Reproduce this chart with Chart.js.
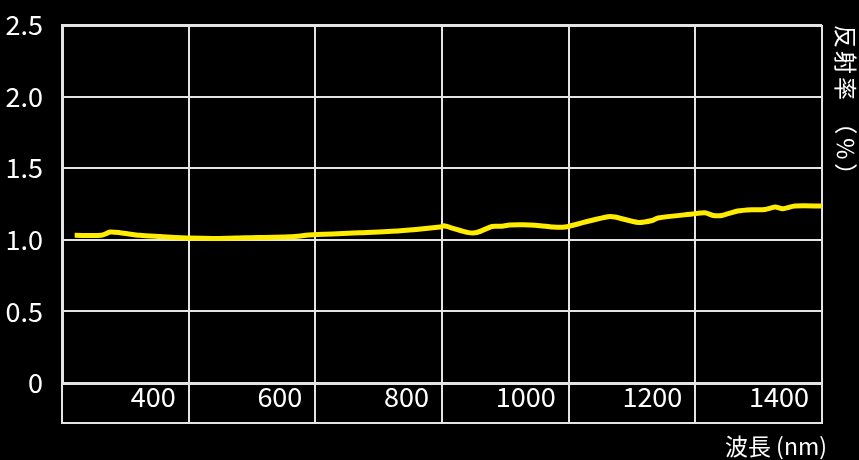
<!DOCTYPE html>
<html>
<head>
<meta charset="utf-8">
<script src="https://cdn.jsdelivr.net/npm/chart.js@4/dist/chart.umd.min.js"></script>
<style>
  html, body { margin: 0; padding: 0; background: #000; }
  #wrap { width: 859px; height: 460px; position: relative; }
</style>
</head>
<body>
<div id="wrap"><canvas id="c"></canvas></div>
<script>
// ---- data ----
const wavelengths = [220, 262, 276, 292, 323, 355, 402, 442, 489, 560, 596, 670, 734, 797, 803, 816, 840, 855, 879, 892, 907, 928, 955, 975, 994, 1026, 1062, 1073, 1110, 1132, 1141, 1195, 1215, 1228, 1242, 1267, 1290, 1310, 1326, 1338, 1357, 1400];
const reflectance = [1.031, 1.031, 1.054, 1.049, 1.031, 1.023, 1.012, 1.009, 1.014, 1.021, 1.035, 1.049, 1.063, 1.089, 1.098, 1.082, 1.052, 1.051, 1.093, 1.094, 1.103, 1.105, 1.098, 1.089, 1.089, 1.124, 1.161, 1.159, 1.121, 1.135, 1.152, 1.180, 1.189, 1.170, 1.170, 1.201, 1.210, 1.212, 1.229, 1.217, 1.236, 1.236];
const xTickValues = [200, 400, 600, 800, 1000, 1200, 1400];
const xTickLabels = ['', '400', '600', '800', '1000', '1200', '1400'];
const yTickLabels = ['0', '0.5', '1.0', '1.5', '2.0', '2.5'];
const xTitle = '波長 (nm)';
const yTitle = '反射率 （％）';

const FONT = "'Noto Sans CJK JP', 'Noto Sans', sans-serif";
const GRID = '#e4e4e4';

Chart.defaults.font.family = FONT;
Chart.defaults.color = '#ffffff';

const decor = {
  id: 'decor',
  afterDraw(chart) {
    const { ctx, chartArea, scales } = chart;
    const x = scales.x;
    const tl = x.options.grid.tickLength;
    ctx.save();
    // bottom edge of tick-label box
    ctx.strokeStyle = GRID;
    ctx.lineWidth = 2;
    ctx.beginPath();
    ctx.moveTo(chartArea.left - 1, chartArea.bottom + tl);
    ctx.lineTo(chartArea.right + 1, chartArea.bottom + tl);
    ctx.stroke();
    // x title
    ctx.fillStyle = '#ffffff';
    ctx.font = '23px ' + FONT;
    ctx.textAlign = 'right';
    ctx.textBaseline = 'middle';
    ctx.fillText(xTitle, chartArea.right + 5, 446);
    // y title (right side, rotated clockwise)
    ctx.translate(846, 25);
    ctx.rotate(Math.PI / 2);
    ctx.textAlign = 'left';
    ctx.textBaseline = 'middle';
    ctx.font = '23px ' + FONT;
    try { ctx.letterSpacing = '3px'; } catch (e) {}
    ctx.fillText(yTitle, 0, 0);
    ctx.restore();
  }
};

new Chart(document.getElementById('c'), {
  type: 'line',
  data: {
    datasets: [{
      data: wavelengths.map((w, i) => ({ x: w, y: reflectance[i] })),
      borderColor: '#ffec00',
      borderWidth: 5,
      pointRadius: 0,
      tension: 0.25,
      fill: false
    }]
  },
  options: {
    responsive: true,
    maintainAspectRatio: false,
    animation: false,
    layout: { padding: { top: 25, right: 37, left: 0, bottom: 0 } },
    plugins: { legend: { display: false }, tooltip: { enabled: false } },
    scales: {
      x: {
        type: 'linear',
        min: 200, max: 1400,
        afterBuildTicks: (s) => { s.ticks = xTickValues.map(v => ({ value: v })); },
        afterFit: (s) => { s.height = 77; s.paddingLeft = 0; s.paddingRight = 0; },
        grid: { color: GRID, lineWidth: 2, drawTicks: true, tickLength: 40, tickColor: GRID, tickWidth: 2 },
        border: { display: true, color: GRID, width: 3 },
        ticks: {
          align: 'end',
          labelOffset: -13,
          padding: -42,
          maxRotation: 0,
          autoSkip: false,
          font: { size: 27 },
          color: '#ffffff',
          callback: (v) => xTickLabels[xTickValues.indexOf(v)]
        }
      },
      y: {
        min: 0, max: 2.5,
        afterFit: (s) => { s.width = 62; s.paddingTop = 0; s.paddingBottom = 0; },
        grid: { color: GRID, lineWidth: (c) => (c.tick && c.tick.value === 2.5 ? 3 : 2), drawTicks: false },
        border: { display: true, color: GRID, width: 3 },
        ticks: {
          stepSize: 0.5,
          padding: 19,
          font: { size: 27 },
          color: '#ffffff',
          callback: (v, i) => yTickLabels[i]
        }
      }
    }
  },
  plugins: [decor]
});
</script>
</body>
</html>
